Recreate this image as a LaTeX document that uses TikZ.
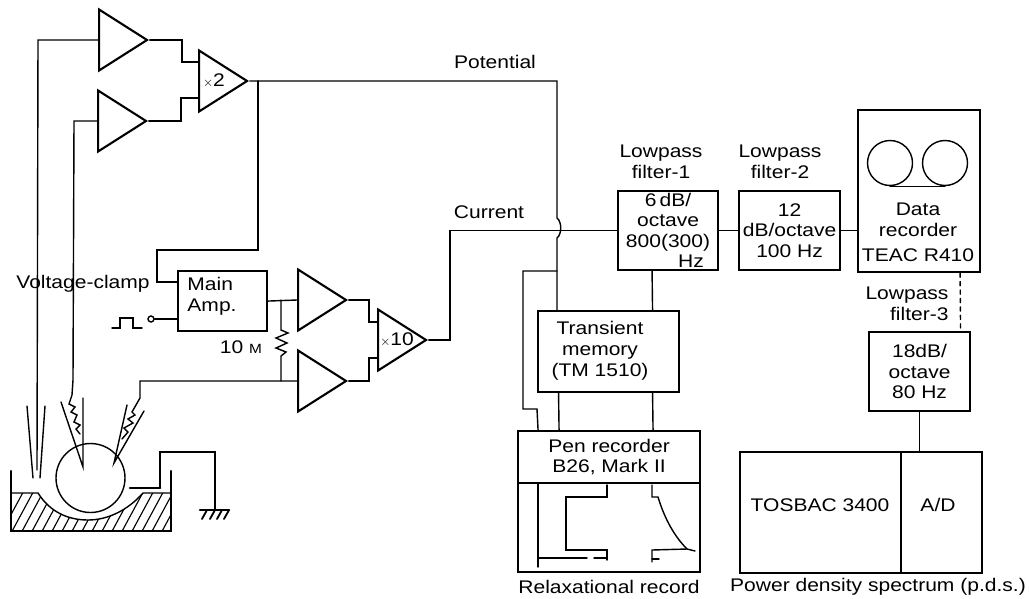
\documentclass[tikz,border=0pt]{standalone}
\usepackage{fontspec}
\setmainfont[FakeStretch=1.15]{Liberation Sans}
\usetikzlibrary{calc,positioning,shapes.geometric}
\newcommand{\px}{0.025cm}
\begin{document}
\begin{tikzpicture}[x=0.025cm,y=-0.025cm,line cap=round,
  devicebox/.style={draw=black,line width=1.5pt,inner sep=0pt,align=center,anchor=north west,font=\fontsize{13}{14.5}\selectfont},
  caption/.style={inner sep=0pt,align=center,font=\fontsize{13}{15}\selectfont},
  wire/.style={line width=1pt},
  amptri/.style={draw=black,line width=1.5pt,shape=isosceles triangle,isosceles triangle stretches,
    inner sep=0pt,minimum width=61*\px,minimum height=48*\px,anchor=lower side},
  glass/.style={line width=1pt}]
  \useasboundingbox (0,0) rectangle (1029,598);
  % amplifiers
  \node[amptri] (ampa) at (98,40) {};
  \node[amptri] (ampb) at (97,121) {};
  \node[amptri] (ampx) at (198,81) {};
  \node[amptri] (ampc) at (297,300) {};
  \node[amptri] (ampd) at (297,381) {};
  \node[amptri] (ampy) at (377,340) {};
  \node[caption] (xtwo) at (214,81) {{\small$\times$}2};
  \node[caption] (xten) at (397,340) {{\small$\times$}10};
  % boxes
  \node[devicebox,minimum width=89*\px,minimum height=60*\px] (mainamp) at (177,270) {};
  \node[caption,align=left] (mainlabel) at (212,296) {Main\\Amp.};
  \node[devicebox,minimum width=100*\px,minimum height=79*\px,font=\fontsize{13}{14.5}\selectfont] (filterone) at (617,190) {6\,dB/\\octave\\800(300)\\\hspace*{1.15cm}Hz};
  \node[devicebox,minimum width=101*\px,minimum height=79*\px] (filtertwo) at (738,190) {12\\dB/octave\\100 Hz};
  \node[devicebox,minimum width=122*\px,minimum height=162*\px] (recorder) at (857,109) {};
  \node[caption] (recorderlabel) at (918,232) {Data\\recorder\\[3pt]TEAC R410};
  \node[devicebox,minimum width=141*\px,minimum height=81*\px] (memory) at (537,310) {};
  \node[caption] (memorylabel) at (600,351) {Transient\\memory\\(TM 1510)};
  \node[devicebox,minimum width=182*\px,minimum height=52*\px] (pen) at (517,430) {Pen recorder\\B26, Mark II};
  \node[devicebox,minimum width=182*\px,minimum height=89*\px] (chart) at (517,482) {};
  \node[devicebox,minimum width=101*\px,minimum height=79*\px] (filterthree) at (868,331) {18dB/\\octave\\80 Hz};
  \node[devicebox,minimum width=161*\px,minimum height=121*\px] (tosbac) at (739,451) {};
  \node[devicebox,minimum width=81*\px,minimum height=121*\px] (adconv) at (900,451) {};
  \node[caption] (tosbaclabel) at (820,505) {TOSBAC 3400};
  \node[caption] (adlabel) at (938,505) {A/D};
  \node[circle,draw,line width=1pt,inner sep=0pt,minimum size=6*\px] (pulsein) at (151,319) {};
  % labels
  \node[caption] (potential) at (495,62) {Potential};
  \node[caption] (current) at (489,212) {Current};
  \node[caption] (clamp) at (83,284) {Voltage-clamp};
  \node[caption] (resistor) at (241,347) {10 {\fontsize{9.5}{11}\selectfont M}};
  \node[caption] (lpone) at (661,162) {Lowpass\\filter-1};
  \node[caption] (lptwo) at (780,162) {Lowpass\\filter-2};
  \node[caption,align=right] (lpthree) at (907,304) {Lowpass\\filter-3};
  \node[caption] (relax) at (609,587) {Relaxational record};
  \node[caption] (spectrum) at (878,587) {Power density spectrum (p.d.s.)};
  % reels
  \node[circle,draw,line width=1pt,inner sep=0pt,minimum size=45*\px] (reela) at (890,163) {};
  \node[circle,draw,line width=1pt,inner sep=0pt,minimum size=45*\px] (reelb) at (945,163) {};
  \draw[wire] (reela.south) -- (reelb.south);
  % coordinates
  \coordinate (tapx) at (258,81);
  \coordinate (hopa) at (557,218);
  \coordinate (hopb) at (557,238);
  \coordinate (tapy) at (557,271);
  \coordinate (tapz) at (281,300);
  \coordinate (tapw) at (281,381);
  % amplifier wiring
  \draw[wire] (ampa.apex) -- ++(32,0) |- ($(ampx.lower side)+(0,-19)$);
  \draw[wire] (ampb.apex) -- ++(32,0) |- ($(ampx.lower side)+(0,17)$);
  \draw[wire] (ampc.apex) -- ++(20,0) |- ($(ampy.lower side)+(0,-18)$);
  \draw[wire] (ampd.apex) -- ++(20,0) |- ($(ampy.lower side)+(0,18)$);
  \draw[wire] (ampa.lower side) -- (38,40) -- (37,470);
  \draw[wire] (ampb.lower side) -- (74,121) -- (73,380) -- (72,395) -- (69,404) -- (75,407) -- (71,412) -- (77,415)
    -- (74,422) -- (80,425) -- (76,429) -- (80,434);
  \draw[wire] (ampd.lower side) -- (140,381) -- (140,398) -- (132,412) -- (135,415) -- (128,419) -- (133,423)
    -- (124,428) -- (128,432) -- (122,439);
  \draw[wire] (ampx.apex) -| (hopa) .. controls (562,222) and (562,234) .. (hopb) -- (hopb |- memory.north);
  \draw[wire] (tapx) |- (157,250) |- ($(mainamp.north west)+(0,12)$);
  \draw[wire] (ampy.apex) -- (450,340) |- (filterone.west);
  \draw[wire] (pulsein) -- (pulsein -| mainamp.west);
  \draw[wire] (112,328) -- (120,328) -- (120,318) -- (133,318) -- (133,328) -- (142,328);
  \draw[wire] (mainamp.east) -- (ampc.lower side);
  \draw[wire] (tapz) -- (281,330) -- (288,333) -- (276,338) -- (287,343) -- (276,348) -- (286,352) -- (281,356) -- (tapw);
  % signal chain
  \draw[wire] (filterone) -- (filtertwo);
  \draw[wire] (filtertwo) -- (filtertwo -| recorder.west);
  \draw[wire,dashed] ($(recorder.south)+(41,0)$) -- ($(filterthree.north)+(41,0)$);
  \draw[wire] (filterthree.south) -- (filterthree.south |- adconv.north);
  \draw[wire] ($(filterone.south)+(-16,0)$) -- ($(memory.north)+(44,0)$);
  \draw[wire] ($(memory.south)+(-50,0)$) -- ($(pen.north)+(-50,0)$);
  \draw[wire] ($(memory.south)+(44,0)$) -- ($(pen.north)+(44,0)$);
  \draw[wire] (tapy) -- (523,271) -- (523,409) -- (537,409) -- ($(pen.north)+(-71,0)$);
  % chart traces
  \draw[wire] (538,483) -- (538,567);
  \draw[wire] (538,558) -- (587,558) (594,558) -- (607,558);
  \draw[wire] (607,485) -- (607,497) -- (566,497) -- (566,550) -- (607,550) -- (607,560);
  \draw[wire] (652,485) -- (652,497) -- (658,497) .. controls (665,520) and (675,537) .. (687,549);
  \draw[wire] (652,562) -- (652,550) -- (687,549) -- (695,551);
  \draw[wire] (652,559) -- (659,559);
  % bath
  \begin{scope}
    \clip (11,493) -- (38,493) .. controls (50,512) and (68,520) .. (88,520) .. controls (108,520) and (128,510) .. (143,493) -- (171,493) -- (171,531) -- (11,531) -- cycle;
    \foreach \hx in {0,10,...,200} {
      \draw[line width=0.8pt] (\hx,535) -- (\hx+27,485);
    }
  \end{scope}
  \draw[glass] (11,493) -- (38,493) .. controls (50,512) and (68,520) .. (88,520) .. controls (108,520) and (128,510) .. (143,493) -- (171,493);
  \draw[line width=1.5pt] (11,471) -- (11,531) -- (171,531) -- (171,471);
  \draw[glass] (90.5,478) circle (34.5);
  % electrodes
  \draw[glass] (27,406) -- (33,478);
  \draw[glass] (45,406) -- (40,478);
  \draw[glass] (61,402) -- (83,467) -- (83,398);
  \draw[glass] (127,405) -- (114,463) -- (144,411);
  % ground
  \draw[line width=2pt] (130,488) -- (160,488);
  \draw[wire] (160,488) -- (160,452) -- (215,452) -- (215,510);
  \draw[line width=1.8pt] (200,510) -- (229,510);
  \foreach \gx in {207,215,222,229} {
    \draw[line width=1.3pt] (\gx,510) -- (\gx-5,519);
  }
\end{tikzpicture}
\end{document}
